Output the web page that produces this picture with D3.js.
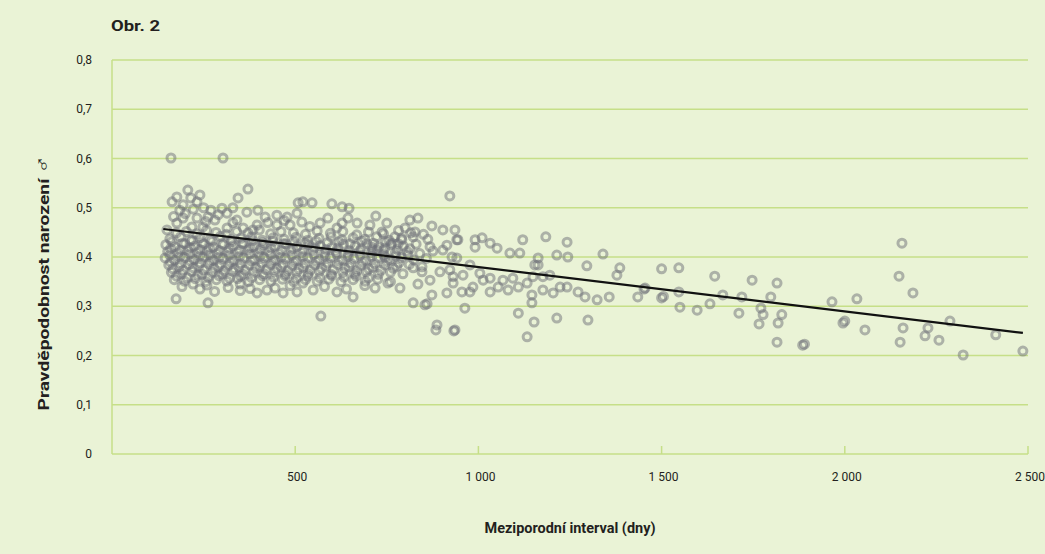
<!DOCTYPE html>
<html lang="cs">
<head>
<meta charset="UTF-8">
<title>Obr. 2</title>
<script src="https://d3js.org/d3.v7.min.js"></script>
<style>
  body { margin: 0; background: #eaf3d6; }
  svg { display: block; font-family: Roboto, "Liberation Sans", sans-serif; }
</style>
</head>
<body>
<svg id="chart" width="1045" height="554"></svg>
<script>
// values: [interval in days, probability]
var denseBand = [
  [150,.455],[176,.449],[203,.452],[231,.447],[258,.454],[284,.450],[312,.446],[340,.452],[371,.449],[402,.455],[433,.447],[461,.452],[495,.449],[528,.446],[560,.453],[596,.448],[630,.452],[668,.445],[700,.451],[741,.447],[782,.454],[815,.449],[850,.446],
  [158,.437],[187,.441],[214,.434],[240,.439],[268,.436],[296,.442],[325,.435],[352,.438],[381,.441],[410,.434],[440,.439],[470,.436],[502,.440],[534,.434],[565,.438],[598,.441],[627,.435],[658,.439],[690,.436],[722,.441],[756,.434],[790,.438],[822,.441],[862,.436],
  [147,.425],[172,.421],[199,.427],[225,.422],[251,.426],[277,.420],[304,.425],[330,.423],[358,.427],[386,.421],[414,.425],[444,.422],[474,.427],[505,.421],[536,.425],[568,.423],[600,.420],[632,.426],[664,.422],[696,.427],[728,.421],[761,.425],[795,.422],[830,.426],[868,.421],
  [152,.411],[180,.408],[207,.413],[234,.409],[260,.412],[288,.407],[316,.411],[344,.409],[372,.414],[400,.408],[428,.411],[457,.407],[488,.412],[518,.409],[548,.413],[580,.408],[612,.411],[644,.407],[676,.412],[708,.409],[740,.413],[773,.408],[806,.411],[840,.407],[876,.412],
  [145,.398],[171,.394],[198,.399],[224,.395],[250,.400],[276,.394],[303,.397],[331,.393],[359,.398],[387,.395],[415,.399],[444,.394],[473,.397],[503,.393],[534,.398],[565,.395],[596,.399],[628,.394],[660,.397],[692,.393],[724,.398],[757,.395],[790,.399],[824,.394],[858,.397],
  [155,.384],[183,.380],[210,.385],[237,.381],[264,.386],[291,.380],[319,.383],[347,.379],[375,.384],[404,.381],[433,.385],[462,.380],[492,.383],[522,.379],[553,.384],[584,.381],[615,.385],[647,.380],[679,.383],[711,.379],[744,.384],[777,.381],[811,.385],[846,.380],
  [162,.369],[190,.366],[218,.371],[246,.365],[273,.369],[301,.366],[329,.371],[357,.365],[386,.369],[415,.366],[444,.370],[474,.365],[504,.369],[535,.366],[566,.371],[598,.365],[630,.369],[662,.366],[694,.370],[727,.365],[760,.369],[794,.366],
  [170,.354],[198,.351],[227,.356],[256,.350],[285,.354],[314,.351],[343,.356],[373,.350],[403,.354],[434,.351],[465,.355],[496,.350],[528,.354],[560,.351],[592,.355],[625,.350],[658,.354],[691,.351],[725,.355],[760,.350]
];

// second, offset layer of the dark core
var denseCore = [
  [163,.431],[192,.428],[219,.433],[246,.429],[273,.432],[300,.427],[327,.431],[355,.428],[383,.433],[411,.429],[439,.432],[468,.427],[497,.431],[527,.428],[557,.432],[588,.429],[619,.431],[650,.427],[682,.432],[714,.428],[747,.431],[781,.427],
  [160,.417],[186,.414],[213,.419],[240,.415],[266,.418],[293,.413],[321,.417],[349,.414],[377,.419],[405,.415],[434,.418],[463,.413],[493,.417],[523,.414],[553,.419],[584,.415],[616,.418],[648,.413],[680,.417],[712,.414],[745,.418],[779,.415],[813,.417],
  [158,.404],[185,.401],[212,.406],[239,.402],[266,.405],[293,.400],[320,.404],[348,.401],[376,.406],[404,.402],[433,.405],[462,.400],[491,.404],[521,.401],[551,.405],[582,.402],[613,.406],[645,.401],[677,.404],[709,.401],[742,.405],[775,.402],[808,.404],
  [160,.390],[187,.387],[214,.392],[241,.388],[268,.391],[296,.386],[323,.390],[351,.387],[380,.392],[409,.388],[438,.391],[467,.386],[497,.390],[527,.387],[558,.391],[589,.388],[620,.392],[652,.387],[684,.390],[717,.387],[750,.391],[783,.388],
  [166,.376],[194,.373],[222,.378],[250,.374],[278,.377],[306,.372],[334,.376],[363,.373],[392,.378],[421,.374],[450,.377],[480,.372],[510,.376],[541,.373],[572,.377],[604,.374],[636,.377],[668,.372],[701,.376],[734,.373],[768,.377],
  [176,.361],[205,.358],[234,.363],[263,.359],[292,.362],[321,.357],[351,.361],[381,.358],[411,.362],[441,.359],[472,.362],[503,.357],[535,.361],[567,.358],[600,.362],[633,.359],[666,.361],[700,.358]
];

var upperCluster = [
  [207,.536],[177,.522],[240,.526],[164,.512],[194,.506],[232,.512],[215,.520],[262,.481],[300,.499],[314,.489],
  [281,.475],[341,.475],[368,.491],[398,.495],[418,.481],[450,.485],[478,.481],[508,.510],[505,.489],[396,.465],
  [358,.459],[450,.465],[486,.465],[518,.471],[232,.479],[194,.479],[177,.469],[218,.461],[248,.461],[314,.459],
  [385,.455],[371,.538],[344,.520],[250,.500],[270,.495],[330,.500],[546,.510],[521,.512],[589,.479],[568,.469],
  [600,.508],[628,.502],[644,.479],[647,.499],[720,.483],[704,.465],[628,.469],[614,.459],[669,.469],[750,.469],
  [737,.451],[813,.475],[835,.479],[873,.463],[903,.455],[800,.459],[827,.451],[772,.441],[791,.435],[764,.428],
  [723,.414],[709,.420],[745,.400],[914,.424],[941,.435],[903,.414],[928,.400],
  [185,.495],[222,.497],[200,.488],[168,.482],[256,.472],[290,.486],[330,.470],[425,.470],[470,.474],[540,.462]
];

var lowerFringe = [
  [191,.340],[221,.345],[259,.343],[317,.338],[377,.336],[396,.327],[445,.337],[486,.342],[505,.329],[467,.327],
  [423,.333],[549,.333],[521,.347],[614,.329],[658,.319],[718,.337],[753,.347],[786,.337],[822,.307],[854,.303],
  [873,.323],[914,.327],[835,.345],[868,.353],[895,.370],[846,.370],[822,.378],[931,.360],[240,.335],[280,.330],
  [350,.345],[580,.340],[640,.335],[690,.342],[350,.332],[860,.305]
];

var middlePoints = [
  [922,.524],[1184,.441],[1121,.435],[1242,.430],[1340,.406],[1296,.382],[1386,.378],[1378,.363],[1435,.319],[1455,.337],
  [1214,.404],[1244,.400],[1163,.398],[1154,.384],[1195,.363],[1176,.333],[1223,.339],[1242,.339],[1272,.329],[1291,.319],
  [1324,.313],[1357,.319],[1299,.272],[1214,.276],[1152,.268],[1109,.286],[1133,.238],[1146,.307],[1146,.323],[1176,.360],
  [963,.296],[936,.252],[1113,.408],[1086,.408],[1051,.418],[1010,.439],[991,.435],[1032,.428],[936,.455],[944,.435],
  [941,.398],[922,.374],[977,.384],[1004,.367],[1032,.357],[1067,.353],[1094,.357],[1081,.333],[1032,.329],[985,.339],
  [955,.329],[931,.347],[1149,.360],[1163,.384],[1133,.347],[1109,.339],[1013,.353],[1054,.339],[958,.363],[991,.420],
  [977,.329],[1204,.327]
];

var tailPoints = [
  [1500,.376],[1547,.378],[1645,.361],[1747,.353],[1815,.347],[1452,.335],[1500,.317],[1505,.320],[1547,.329],[1550,.298],
  [1597,.292],[1632,.305],[1667,.323],[1711,.286],[1719,.319],[1771,.296],[1777,.283],[1766,.264],[1798,.319],[1828,.283],
  [1818,.266],[1815,.227],[1885,.221],[1890,.223],[1965,.309],[1995,.266],[2000,.270],[2033,.315],[2156,.428],[2148,.361],
  [2186,.327],[2055,.252],[2159,.256],[2151,.227],[2227,.256],[2219,.240],[2257,.231],[2287,.270],[2323,.201],[2412,.242],
  [2486,.209]
];

var isolated = [[161,.601],[303,.601],[175,.315],[262,.307],[570,.280],[887,.262],[884,.252],[933,.250]];

var xTicks = [500, 1000, 1500, 2000, 2500];
var yTicks = [0, 0.1, 0.2, 0.3, 0.4, 0.5, 0.6, 0.7, 0.8];
// trend line
var trendX = [140, 2486];
var trendIntercept = 0.4695, trendSlope = -0.00009;

var svg = d3.select("#chart");
var grid = "#c6df88";
var ink = "#231f20";

var x = d3.scaleLinear().domain([0, 2500]).range([112, 1028]);
var y = d3.scaleLinear().domain([0, 0.8]).range([454, 60]);
var fmt = function(v) { return d3.format(",")(v).replace(/,/g, "\u00a0"); };

svg.append("text").attr("x", 111).attr("y", 31)
  .attr("font-size", 15).attr("font-weight", "bold").attr("fill", ink)
  .attr("textLength", 49).attr("lengthAdjust", "spacingAndGlyphs").text("Obr. 2");

// horizontal grid
svg.append("g").selectAll("line").data(yTicks).join("line")
  .attr("x1", 112).attr("x2", 1028)
  .attr("y1", d => y(d)).attr("y2", d => y(d))
  .attr("stroke", grid).attr("stroke-width", 1.5);

svg.append("line").attr("x1", 112).attr("x2", 112).attr("y1", y(0.8)).attr("y2", y(0))
  .attr("stroke", grid).attr("stroke-width", 1.5);

svg.append("g").selectAll("line").data(xTicks).join("line")
  .attr("x1", d => x(d)).attr("x2", d => x(d))
  .attr("y1", y(0)).attr("y2", y(0) - 8)
  .attr("stroke", grid).attr("stroke-width", 1.5);

svg.append("g").attr("font-size", 12).attr("fill", ink)
  .selectAll("text").data(yTicks).join("text")
  .attr("x", 92).attr("y", d => y(d)).attr("dy", "0.35em").attr("text-anchor", "end")
  .text(d => d === 0 ? "0" : String(d).replace(".", ","));

svg.append("g").attr("font-size", 12).attr("fill", ink)
  .selectAll("text").data(xTicks).join("text")
  .attr("x", d => x(d) + 2).attr("y", 481).attr("text-anchor", "middle")
  .text(d => fmt(d));

// points
var all = denseBand.concat(denseCore, upperCluster, lowerFringe, middlePoints, tailPoints, isolated);
svg.append("g").attr("fill", "none").attr("stroke", "#6e6f77").attr("stroke-opacity", 0.5).attr("stroke-width", 3)
  .selectAll("circle").data(all).join("circle")
  .attr("cx", d => x(d[0])).attr("cy", d => y(d[1])).attr("r", 4);

// trend
svg.append("line")
  .attr("x1", x(trendX[0])).attr("y1", y(trendIntercept + trendSlope * trendX[0]))
  .attr("x2", x(trendX[1])).attr("y2", y(trendIntercept + trendSlope * trendX[1]))
  .attr("stroke", "#111").attr("stroke-width", 2.2);

svg.append("text").attr("x", 570).attr("y", 533).attr("text-anchor", "middle")
  .attr("font-size", 15).attr("font-weight", "bold").attr("fill", ink)
  .attr("textLength", 171).attr("lengthAdjust", "spacingAndGlyphs")
  .text("Meziporodní interval (dny)");

var yTitle = svg.append("text").attr("transform", "translate(49,283) rotate(-90)").attr("text-anchor", "middle")
  .attr("font-size", 15).attr("font-weight", "bold").attr("fill", ink)
  .attr("textLength", 255).attr("lengthAdjust", "spacingAndGlyphs");
yTitle.append("tspan").text("Pravděpodobnost narození ");
yTitle.append("tspan").attr("font-size", 19).attr("font-weight", "normal").text("\u2642");
</script>
</body>
</html>
